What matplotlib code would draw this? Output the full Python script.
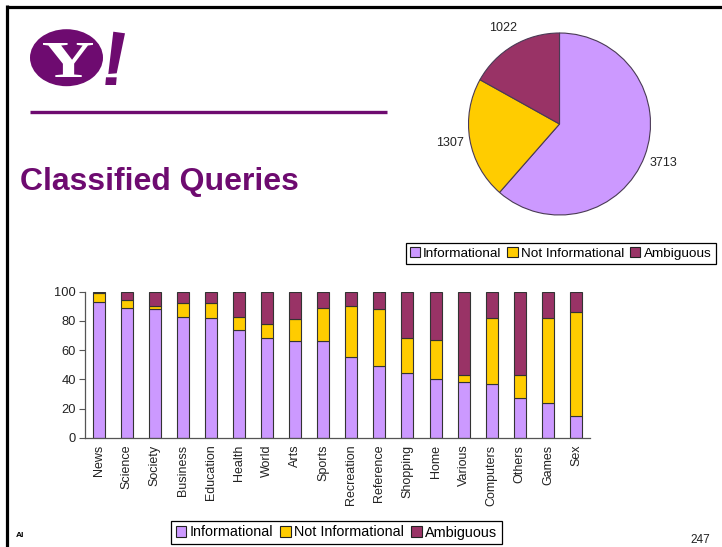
import numpy as np
import matplotlib.pyplot as plt
from matplotlib.patches import Ellipse, Polygon, PathPatch, Patch
from matplotlib.textpath import TextPath
from matplotlib.font_manager import FontProperties
from matplotlib.transforms import Affine2D

plt.rcParams['font.family'] = ['Liberation Sans', 'DejaVu Sans']

# query classes and their colours
classes = ['Informational', 'Not Informational', 'Ambiguous']
class_colors = ['#CC99FF', '#FFCC00', '#993366']

# overall counts per class
pie_counts = [3713, 1307, 1022]

# per-category share (%) of each class
categories = ['News', 'Science', 'Society', 'Business', 'Education', 'Health',
              'World', 'Arts', 'Sports', 'Recreation', 'Reference', 'Shopping',
              'Home', 'Various', 'Computers', 'Others', 'Games', 'Sex']
informational = [93, 89, 88, 83, 82, 74, 68, 66, 66, 55, 49, 44, 40, 38, 37, 27, 24, 15]
not_informational = [6, 5, 2, 9, 10, 9, 10, 15, 23, 35, 39, 24, 27, 5, 45, 16, 58, 71]
ambiguous = [1, 6, 10, 8, 8, 17, 22, 19, 11, 10, 12, 32, 33, 57, 18, 57, 18, 14]

PURPLE = '#6e0b70'
W, H = 722, 547

fig = plt.figure(figsize=(W / 100, H / 100), dpi=100)
fig.patch.set_facecolor('white')

# slide decorations in pixel coordinates
deco = fig.add_axes([0, 0, 1, 1], zorder=0)
deco.set_xlim(0, W)
deco.set_ylim(H, 0)
deco.axis('off')
deco.patch.set_alpha(0)

deco.plot([6.5, W], [6.5, 6.5], color='black', lw=2.3, solid_capstyle='butt')
deco.plot([6.5, 6.5], [5.4, H], color='black', lw=2.3, solid_capstyle='butt')

# logo: ellipse with a serif Y, plus the exclamation mark
deco.add_patch(Ellipse((66.5, 57.7), 73, 57, color=PURPLE, lw=0))
tp = TextPath((0, 0), 'Y', size=1, prop=FontProperties(family='Liberation Serif', weight='bold'))
ext = tp.get_extents()
tr = (Affine2D().translate(-ext.x0, -ext.y0)
      .scale(50 / ext.width, -34 / ext.height).translate(43, 77))
deco.add_patch(PathPatch(tr.transform_path(tp), color='white', lw=0))
deco.add_patch(Polygon([(113.3, 31.7), (125, 33.3), (116.7, 73.3), (108.3, 74)],
                       closed=True, color=PURPLE, lw=0))
deco.add_patch(Polygon([(106, 77.3), (116.7, 77.3), (116, 85), (105.3, 85)],
                       closed=True, color=PURPLE, lw=0))

deco.plot([30, 387], [112, 112], color=PURPLE, lw=2.4, solid_capstyle='butt')
deco.text(20, 190, 'Classified Queries', color=PURPLE, fontsize=23,
          fontweight='bold', ha='left', va='baseline')
deco.text(16, 537, 'Al', fontsize=6, fontweight='bold', ha='left', va='baseline')
deco.text(710, 543, '247', fontsize=8.5, ha='right', va='baseline', color='#222222')

# pie of overall counts
r = 91
pie_ax = fig.add_axes([(559.5 - r) / W, (H - 124 - r) / H, 2 * r / W, 2 * r / H])
wedges, texts = pie_ax.pie(pie_counts, labels=[str(c) for c in pie_counts],
                           colors=class_colors, startangle=90, counterclock=False,
                           labeldistance=1.22,
                           wedgeprops=dict(edgecolor='#4a3a55', linewidth=0.8),
                           textprops=dict(fontsize=9, color='#222222'))
for t in texts:
    t.set_ha('center')
    t.set_va('center')
pie_ax.set_xlim(-1, 1)
pie_ax.set_ylim(-1, 1)

handles = [Patch(facecolor=c, edgecolor='#222222', linewidth=0.8) for c in class_colors]
leg_kw = dict(ncol=3, loc='center', fancybox=False, shadow=False, framealpha=1,
              handlelength=0.75, handleheight=0.75, handletextpad=0.25,
              columnspacing=0.45, borderpad=0.3, borderaxespad=0)

leg1 = fig.legend(handles, classes, bbox_to_anchor=(560.5 / W, 1 - 253.5 / H),
                  fontsize=9.7, **leg_kw)
leg1.get_frame().set_edgecolor('black')
leg1.get_frame().set_linewidth(0.9)

# stacked bars per category
ax = fig.add_axes([84.5 / W, (H - 437.7) / H, (590 - 84.5) / W, 146 / H])
x = np.arange(len(categories))
info = np.array(informational)
noti = np.array(not_informational)
amb = np.array(ambiguous)
bar_kw = dict(width=0.43, edgecolor='#333333', linewidth=0.8)
ax.bar(x, info, color=class_colors[0], **bar_kw)
ax.bar(x, noti, bottom=info, color=class_colors[1], **bar_kw)
ax.bar(x, amb, bottom=info + noti, color=class_colors[2], **bar_kw)

ax.set_xlim(-0.5, len(categories) - 0.5)
ax.set_ylim(0, 100)
ax.set_yticks(range(0, 101, 20))
ax.set_xticks(x)
ax.set_xticklabels(categories, rotation=90, fontsize=9, color='#222222')
ax.tick_params(axis='x', length=0, pad=5)
ax.tick_params(axis='y', length=4, width=0.8, color='#555555', labelsize=9.3,
               labelcolor='#222222', pad=2)
for s in ['top', 'right']:
    ax.spines[s].set_visible(False)
for s in ['left', 'bottom']:
    ax.spines[s].set_color('#555555')
    ax.spines[s].set_linewidth(0.9)

leg2 = fig.legend(handles, classes, bbox_to_anchor=(336.5 / W, 1 - 532.5 / H),
                  fontsize=10.4, **leg_kw)
leg2.get_frame().set_edgecolor('black')
leg2.get_frame().set_linewidth(0.9)

fig.savefig('out.png', dpi=100)
